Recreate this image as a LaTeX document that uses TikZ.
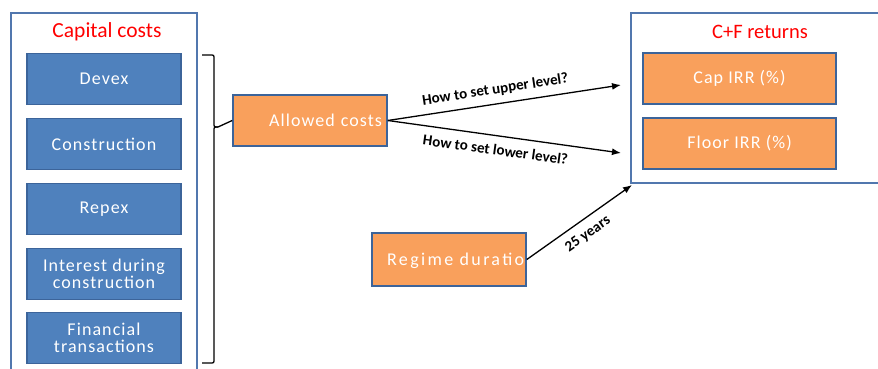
\documentclass[tikz,border=0pt]{standalone}
\usepackage{fontspec}
\setmainfont{Carlito}
\usetikzlibrary{arrows.meta}
\definecolor{costblue}{HTML}{4F81BD}
\definecolor{edgeblue}{HTML}{3C649A}
\definecolor{frameblue}{HTML}{5177AE}
\definecolor{boxorange}{HTML}{F9A05C}
\definecolor{titlered}{HTML}{FF0000}
\newfontfamily\boxfont[LetterSpace=6]{Carlito}
\newfontfamily\widebox[LetterSpace=13]{Carlito}
\tikzset{
  frame/.style={draw=frameblue, line width=1.6pt},
  costbox/.style={draw=edgeblue, fill=costblue, line width=1.6pt,
    minimum width=154pt, minimum height=51pt, inner sep=0pt,
    text=white, align=center, font=\boxfont\fontsize{18}{21}\selectfont},
  orangebox/.style={costbox, fill=boxorange},
  title/.style={text=titlered, font=\fontsize{21.5}{24}\selectfont},
  flow/.style={-{Latex[length=9pt,width=7pt]}, line width=1.3pt, black},
  bracket/.style={line width=1.3pt, black},
  arrowlabel/.style={font=\bfseries\fontsize{15}{17}\selectfont, sloped, inner sep=5pt}
}
\begin{document}
\begin{tikzpicture}[x=1pt, y=-1pt]
\useasboundingbox (0,0) rectangle (878,369);

% group frames (they run past the page edge)
\draw[frame] (11,13) rectangle (197,380);
\draw[frame] (631,13) rectangle (890,183);
\node[title] (captitle) at (107,32) {Capital costs};
\node[title, font=\fontsize{20.5}{24}\selectfont] (cftitle) at (760,32) {C+F returns};

% capital cost items
\node[costbox] (devex) at (104,79) {Devex};
\node[costbox] (constr) at (104,144) {Construction};
\node[costbox] (repex) at (104,209) {Repex};
\node[costbox] (idc) at (104,274) {Interest during\\[-4pt]construction};
\node[costbox] (fin) at (104,338) {Financial\\[-4pt]transactions};

% allowed costs and returns
\node[orangebox, text width=144pt, align=right] (allowed) at (310,120.5) {Allowed costs};
\node[orangebox, minimum width=193pt] (cap) at (739.5,78.5) {Cap IRR (\%)};
\node[orangebox, minimum width=193pt] (floor) at (739.5,143.5) {Floor IRR (\%)};
\node[orangebox, minimum height=53pt] (regime) at (449,259.5) {};
\begin{scope}
  \clip (regime.south west) rectangle (regime.north east);
  \node[anchor=west, text=white, inner sep=0pt, font=\widebox\fontsize{18}{21}\selectfont]
    (regimetext) at (387,261) {Regime duration};
\end{scope}

% brace gathering the capital costs
\coordinate (bracetop) at (202,55);
\coordinate (bracebot) at (202,363);
\draw[bracket]
  (bracetop) -- (210,55) .. controls (214,55) .. (214,59)
  -- (214,123) .. controls (214,127) .. (218,127) -- (allowed.west);
\draw[bracket]
  (218,127) .. controls (214,127) .. (214,131)
  -- (214,359) .. controls (214,363) .. (210,363) -- (bracebot);

% connectors
\coordinate (upperend) at (621,85);
\coordinate (lowerend) at (621,153);
\coordinate (regend) at (632,185);
\draw[flow] (allowed.east) -- (upperend)
  node[arrowlabel, above, pos=0.47, inner sep=7pt] {How to set upper level?};
\draw[flow] (allowed.east) -- (lowerend)
  node[arrowlabel, below, pos=0.47, inner sep=8pt] {How to set lower level?};
\draw[flow] (regime.east) -- (regend)
  node[arrowlabel, below, pos=0.5, inner sep=8pt] {25 years};
\end{tikzpicture}
\end{document}
